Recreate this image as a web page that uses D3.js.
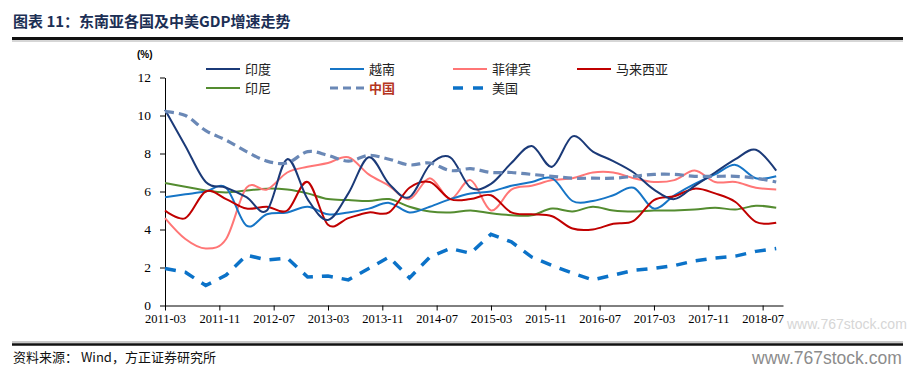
<!DOCTYPE html>
<meta charset="utf-8">
<title>东南亚各国及中美GDP增速走势</title>
<head>
  <script src="https://d3js.org/d3.v7.min.js"></script>
  <style>
    body { margin: 0; background: #fff; }
    .cn { font-family: "Noto Sans CJK SC", "Noto Sans", sans-serif; }
    .axis text { font-family: "Liberation Serif", "Times New Roman", serif; font-size: 12.5px; fill: #000; }
    .axis path, .axis line { stroke: #000; stroke-width: 1; }
  </style>
</head>
<body>
<div id="chart"></div>
<script>
    // quarterly periods (year-month of quarter end)
    var periods = ["2011-03","2011-06","2011-09","2011-12","2012-03","2012-06","2012-09","2012-12",
                   "2013-03","2013-06","2013-09","2013-12","2014-03","2014-06","2014-09","2014-12",
                   "2015-03","2015-06","2015-09","2015-12","2016-03","2016-06","2016-09","2016-12",
                   "2017-03","2017-06","2017-09","2017-12","2018-03","2018-06","2018-09"];

    var xTickLabels = ["2011-03","2011-11","2012-07","2013-03","2013-11","2014-07",
                       "2015-03","2015-11","2016-07","2017-03","2017-11","2018-07"];
    var yTicks = [0, 2, 4, 6, 8, 10, 12];

    // GDP growth, % yoy
    var india       = [10.3, 8.4, 6.5, 6.2, 5.7, 5.0, 7.7, 5.6, 4.5, 5.9, 7.8, 6.4, 5.7, 7.4, 7.8, 6.2,
                       6.4, 7.5, 8.4, 7.3, 8.9, 8.1, 7.6, 7.0, 6.1, 5.6, 6.3, 7.0, 7.7, 8.2, 7.1];
    var vietnam     = [5.7, 5.85, 6.0, 6.2, 4.2, 4.8, 4.9, 5.2, 4.8, 4.9, 5.1, 5.4, 4.9, 5.2, 5.6, 5.9,
                       6.0, 6.3, 6.5, 6.7, 5.5, 5.5, 5.8, 6.2, 5.1, 5.8, 6.4, 6.9, 7.4, 6.7, 6.8];
    var philippines = [4.6, 3.5, 3.0, 3.5, 6.2, 6.1, 7.0, 7.3, 7.5, 7.8, 6.9, 6.3, 5.6, 6.7, 5.6, 6.6,
                       5.0, 6.1, 6.3, 6.6, 6.7, 7.0, 7.0, 6.7, 6.5, 6.6, 7.1, 6.5, 6.5, 6.2, 6.1];
    var malaysia    = [5.0, 4.6, 6.0, 5.6, 5.1, 5.2, 5.0, 6.5, 4.25, 4.6, 4.9, 4.9, 6.2, 6.5, 5.6, 5.6,
                       5.8, 4.9, 4.8, 4.7, 4.05, 4.0, 4.3, 4.45, 5.55, 5.75, 6.15, 5.9, 5.45, 4.4, 4.35];
    var indonesia   = [6.45, 6.25, 6.05, 5.95, 6.05, 6.15, 6.1, 5.9, 5.6, 5.55, 5.5, 5.6, 5.2, 4.95, 4.9, 5.0,
                       4.85, 4.75, 4.75, 5.1, 4.95, 5.2, 5.0, 4.95, 5.0, 5.0, 5.05, 5.15, 5.05, 5.25, 5.15];
    var china       = [10.2, 10.0, 9.2, 8.7, 8.1, 7.6, 7.5, 8.1, 7.9, 7.6, 7.9, 7.7, 7.4, 7.5, 7.1, 7.2,
                       7.0, 7.0, 6.9, 6.8, 6.7, 6.7, 6.7, 6.8, 6.9, 6.9, 6.8, 6.8, 6.8, 6.7, 6.5];
    var usa         = [1.95, 1.75, 1.05, 1.6, 2.65, 2.4, 2.5, 1.5, 1.55, 1.35, 1.95, 2.55, 1.45, 2.55, 3.0, 2.75,
                       3.75, 3.35, 2.55, 2.1, 1.7, 1.35, 1.6, 1.85, 1.95, 2.1, 2.35, 2.5, 2.6, 2.85, 3.0];

    var series = [
      {name: "印度",     values: india,       color: "#1b3a78", width: 2,   dash: null,  smooth: true},
      {name: "越南",     values: vietnam,     color: "#1675c6", width: 2,   dash: null,  smooth: true},
      {name: "菲律宾",   values: philippines, color: "#ff7676", width: 2,   dash: null,  smooth: true},
      {name: "马来西亚", values: malaysia,    color: "#c00000", width: 2,   dash: null,  smooth: true},
      {name: "印尼",     values: indonesia,   color: "#548c30", width: 2,   dash: null,  smooth: true},
      {name: "中国",     values: china,       color: "#6a88b6", width: 3.2, dash: "9,5", smooth: true},
      {name: "美国",     values: usa,         color: "#0b72c8", width: 3.5, dash: "11,9", smooth: false}
    ];

    var W = 913, H = 371;

    // month index counted from 2011-03
    function monthIndex(s) {
      var p = s.split("-");
      return (+p[0] - 2011) * 12 + (+p[1] - 3);
    }

    var svg = d3.select("#chart").append("svg")
        .attr("width", W)
        .attr("height", H);

    // watermark behind the chart
    svg.append("text")
        .attr("x", 787).attr("y", 329)
        .style("font-family", "Liberation Sans, Arial, sans-serif")
        .style("font-size", "14px").style("fill", "#d6d6d6")
        .text("www.767stock.com");

    // title
    svg.append("text")
        .attr("class", "cn")
        .attr("x", 13).attr("y", 27)
        .style("font-size", "15px").style("font-weight", "bold")
        .style("fill", "#1c2f55")
        .text("图表 11：东南亚各国及中美GDP增速走势");
    svg.append("line").attr("x1", 12).attr("x2", 903).attr("y1", 38.5).attr("y2", 38.5)
        .attr("stroke", "#111").attr("stroke-width", 3);
    svg.append("line").attr("x1", 12).attr("x2", 903).attr("y1", 41).attr("y2", 41)
        .attr("stroke", "#999").attr("stroke-width", 0.8);

    var x = d3.scaleLinear().domain([0, 91]).range([165, 783]);
    var y = d3.scaleLinear().domain([0, 12]).range([305.5, 77.5]);

    // axes
    svg.append("g")
        .attr("class", "axis")
        .attr("transform", "translate(0,305.5)")
        .call(d3.axisBottom(x)
            .tickValues(xTickLabels.map(monthIndex))
            .tickFormat(function(d, i) { return xTickLabels[i]; })
            .tickSizeInner(5).tickSizeOuter(0).tickPadding(4));

    svg.append("g")
        .attr("class", "axis")
        .attr("transform", "translate(165,0)")
        .call(d3.axisLeft(y)
            .tickValues(yTicks)
            .tickFormat(d3.format("d"))
            .tickSizeInner(5).tickSizeOuter(0).tickPadding(9))
        .selectAll("text").style("font-size", "13.5px");

    svg.append("text")
        .attr("x", 137).attr("y", 58)
        .style("font-family", "Liberation Sans, Arial, sans-serif")
        .style("font-size", "10px").style("font-weight", "bold")
        .text("(%)");

    // lines
    var smoothLine = d3.line()
        .x(function(d, i) { return x(monthIndex(periods[i])); })
        .y(function(d) { return y(d); })
        .curve(d3.curveCardinal.tension(0));
    var straightLine = d3.line()
        .x(function(d, i) { return x(monthIndex(periods[i])); })
        .y(function(d) { return y(d); });

    var drawOrder = [4, 2, 1, 3, 0, 5, 6];
    drawOrder.forEach(function(k) {
      var s = series[k];
      svg.append("path")
          .datum(s.values)
          .attr("fill", "none")
          .attr("stroke", s.color)
          .attr("stroke-width", s.width)
          .attr("stroke-dasharray", s.dash)
          .attr("d", s.smooth ? smoothLine : straightLine);
    });

    // legend
    var legendPos = [
      {x: 206, y: 69}, {x: 330, y: 69}, {x: 453, y: 69}, {x: 577, y: 69},
      {x: 206, y: 88}, {x: 330, y: 88}, {x: 453, y: 88}
    ];
    series.forEach(function(s, i) {
      var p = legendPos[i];
      var g = svg.append("g").attr("transform", "translate(" + p.x + "," + p.y + ")");
      g.append("line")
          .attr("x1", 0).attr("x2", 34).attr("y1", 0).attr("y2", 0)
          .attr("stroke", s.color)
          .attr("stroke-width", s.width)
          .attr("stroke-dasharray", s.name == "美国" ? "10,10" : (s.dash ? "8,5" : null));
      g.append("text")
          .attr("class", "cn")
          .attr("x", 39).attr("y", 4.5)
          .style("font-size", "13px")
          .style("fill", s.name == "中国" ? "#b5351f" : "#222")
          .style("font-weight", s.name == "中国" ? "bold" : "normal")
          .text(s.name);
    });

    // footer
    svg.append("line").attr("x1", 12).attr("x2", 903).attr("y1", 342).attr("y2", 342)
        .attr("stroke", "#777").attr("stroke-width", 0.8);
    svg.append("line").attr("x1", 12).attr("x2", 903).attr("y1", 344.5).attr("y2", 344.5)
        .attr("stroke", "#111").attr("stroke-width", 2.5);
    svg.append("text")
        .attr("class", "cn")
        .attr("x", 13).attr("y", 362)
        .style("font-size", "13px").style("fill", "#111")
        .text("资料来源： Wind，方正证券研究所");

    svg.append("text")
        .attr("x", 752).attr("y", 364)
        .style("font-family", "Liberation Sans, Arial, sans-serif")
        .style("font-size", "17.5px").style("fill", "#8c8c8c")
        .text("www.767stock.com");
</script>
</body>
